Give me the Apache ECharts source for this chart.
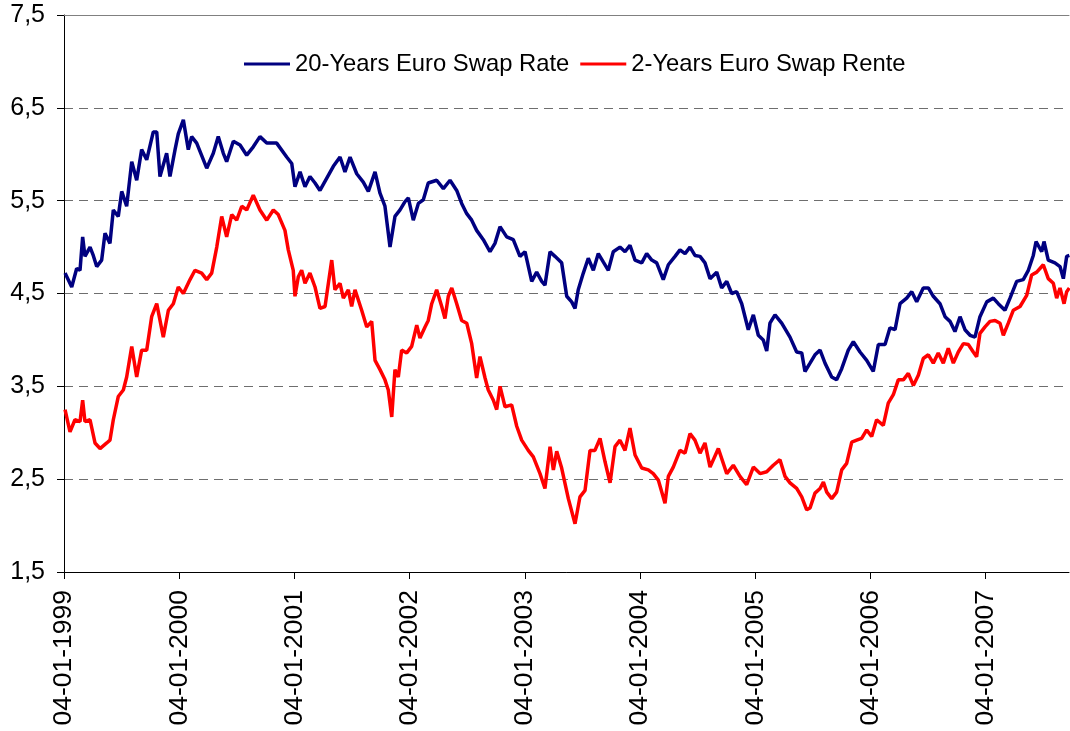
<!DOCTYPE html>
<html>
<head>
<meta charset="utf-8">
<title>Euro Swap Rates</title>
<script src="https://cdn.jsdelivr.net/npm/echarts@6/dist/echarts.min.js"></script>
<style>
  html, body { margin: 0; padding: 0; background: #fff; }
  #chart { width: 1070px; height: 731px; }
</style>
</head>
<body>
<div id="chart"></div>
<script>
// time in decimal years, 1999.0 = 04-01-1999
const years20 = [
  1999.009, 1999.067, 1999.110, 1999.139, 1999.162, 1999.182, 1999.226, 1999.254, 1999.284, 1999.327,
  1999.356, 1999.399, 1999.428, 1999.471, 1999.501, 1999.544, 1999.588, 1999.631, 1999.674, 1999.718,
  1999.775, 1999.805, 1999.833, 1999.891, 1999.920, 1999.964, 1999.992, 2000.036, 2000.079, 2000.108,
  2000.152, 2000.239, 2000.296, 2000.339, 2000.383, 2000.412, 2000.470, 2000.528, 2000.586, 2000.643,
  2000.701, 2000.760, 2000.846, 2000.933, 2000.977, 2001.005, 2001.049, 2001.092, 2001.135, 2001.179,
  2001.222, 2001.280, 2001.338, 2001.396, 2001.439, 2001.483, 2001.541, 2001.598, 2001.642, 2001.700,
  2001.743, 2001.786, 2001.830, 2001.873, 2001.917, 2001.960, 2001.989, 2002.032, 2002.076, 2002.119,
  2002.162, 2002.235, 2002.293, 2002.351, 2002.409, 2002.452, 2002.496, 2002.539, 2002.582, 2002.640,
  2002.698, 2002.741, 2002.785, 2002.843, 2002.900, 2002.958, 2003.002, 2003.060, 2003.103, 2003.147,
  2003.175, 2003.219, 2003.262, 2003.320, 2003.364, 2003.407, 2003.436, 2003.464, 2003.508, 2003.551,
  2003.595, 2003.638, 2003.681, 2003.725, 2003.768, 2003.826, 2003.870, 2003.913, 2003.957, 2004.015,
  2004.058, 2004.102, 2004.145, 2004.202, 2004.246, 2004.304, 2004.347, 2004.391, 2004.434, 2004.477,
  2004.521, 2004.564, 2004.608, 2004.666, 2004.709, 2004.753, 2004.796, 2004.839, 2004.883, 2004.940,
  2004.984, 2005.027, 2005.070, 2005.100, 2005.128, 2005.172, 2005.230, 2005.302, 2005.360, 2005.404,
  2005.432, 2005.476, 2005.519, 2005.563, 2005.606, 2005.664, 2005.707, 2005.751, 2005.808, 2005.852,
  2005.910, 2005.968, 2006.025, 2006.069, 2006.127, 2006.170, 2006.214, 2006.257, 2006.315, 2006.359,
  2006.402, 2006.459, 2006.503, 2006.546, 2006.604, 2006.648, 2006.691, 2006.734, 2006.778, 2006.821,
  2006.865, 2006.908, 2006.951, 2007.010, 2007.067, 2007.110, 2007.168, 2007.212, 2007.270, 2007.327,
  2007.371, 2007.414, 2007.438, 2007.487, 2007.507, 2007.544, 2007.602, 2007.646, 2007.675, 2007.704,
  2007.727
]
const rate20 = [
  4.72, 4.57, 4.77, 4.75, 5.11, 4.90, 5.00, 4.91, 4.79, 4.86,
  5.15, 5.04, 5.40, 5.33, 5.60, 5.44, 5.92, 5.72, 6.05, 5.94,
  6.24, 6.24, 5.76, 6.01, 5.76, 6.05, 6.22, 6.37, 6.05, 6.19,
  6.12, 5.85, 6.01, 6.19, 6.01, 5.92, 6.14, 6.10, 5.99, 6.08,
  6.19, 6.12, 6.12, 5.97, 5.90, 5.65, 5.81, 5.65, 5.76, 5.69,
  5.61, 5.74, 5.87, 5.97, 5.81, 5.97, 5.79, 5.70, 5.60, 5.81,
  5.58, 5.44, 5.00, 5.33, 5.40, 5.49, 5.53, 5.29, 5.47, 5.51,
  5.69, 5.72, 5.63, 5.72, 5.61, 5.47, 5.36, 5.29, 5.18, 5.08,
  4.95, 5.04, 5.22, 5.11, 5.08, 4.90, 4.95, 4.63, 4.73, 4.63,
  4.59, 4.95, 4.90, 4.83, 4.47, 4.41, 4.34, 4.54, 4.72, 4.88,
  4.75, 4.93, 4.84, 4.75, 4.95, 5.00, 4.95, 5.02, 4.86, 4.83,
  4.93, 4.86, 4.83, 4.65, 4.81, 4.90, 4.97, 4.93, 5.00, 4.91,
  4.90, 4.83, 4.66, 4.73, 4.56, 4.63, 4.50, 4.52, 4.39, 4.11,
  4.27, 4.05, 4.00, 3.88, 4.18, 4.27, 4.18, 4.03, 3.87, 3.86,
  3.66, 3.75, 3.84, 3.89, 3.75, 3.60, 3.57, 3.69, 3.89, 3.98,
  3.87, 3.78, 3.66, 3.95, 3.95, 4.13, 4.11, 4.39, 4.45, 4.52,
  4.41, 4.56, 4.56, 4.47, 4.39, 4.25, 4.20, 4.09, 4.25, 4.11,
  4.05, 4.03, 4.25, 4.41, 4.45, 4.39, 4.32, 4.45, 4.63, 4.65,
  4.75, 4.91, 5.06, 4.95, 5.06, 4.86, 4.83, 4.79, 4.66, 4.90,
  4.91
]

const years2 = [
  1999.009, 1999.052, 1999.095, 1999.139, 1999.162, 1999.182, 1999.226, 1999.269, 1999.313, 1999.371,
  1999.399, 1999.428, 1999.471, 1999.515, 1999.544, 1999.588, 1999.631, 1999.674, 1999.718, 1999.761,
  1999.805, 1999.862, 1999.906, 1999.949, 1999.992, 2000.036, 2000.094, 2000.137, 2000.195, 2000.239,
  2000.282, 2000.326, 2000.369, 2000.412, 2000.456, 2000.499, 2000.543, 2000.586, 2000.643, 2000.701,
  2000.760, 2000.817, 2000.860, 2000.918, 2000.947, 2000.990, 2001.005, 2001.034, 2001.063, 2001.092,
  2001.135, 2001.179, 2001.222, 2001.266, 2001.324, 2001.352, 2001.396, 2001.425, 2001.468, 2001.497,
  2001.526, 2001.584, 2001.628, 2001.671, 2001.700, 2001.743, 2001.786, 2001.815, 2001.845, 2001.873,
  2001.902, 2001.931, 2001.975, 2002.018, 2002.062, 2002.090, 2002.134, 2002.162, 2002.192, 2002.235,
  2002.279, 2002.307, 2002.336, 2002.366, 2002.409, 2002.452, 2002.496, 2002.539, 2002.582, 2002.611,
  2002.655, 2002.683, 2002.727, 2002.756, 2002.785, 2002.828, 2002.886, 2002.930, 2002.973, 2003.030,
  2003.074, 2003.132, 2003.175, 2003.219, 2003.248, 2003.277, 2003.320, 2003.378, 2003.436, 2003.479,
  2003.523, 2003.566, 2003.609, 2003.653, 2003.696, 2003.740, 2003.783, 2003.826, 2003.870, 2003.913,
  2003.957, 2004.015, 2004.072, 2004.115, 2004.159, 2004.217, 2004.246, 2004.289, 2004.347, 2004.391,
  2004.434, 2004.477, 2004.521, 2004.564, 2004.608, 2004.680, 2004.753, 2004.810, 2004.868, 2004.926,
  2004.984, 2005.042, 2005.100, 2005.157, 2005.215, 2005.259, 2005.302, 2005.360, 2005.404, 2005.447,
  2005.476, 2005.519, 2005.563, 2005.592, 2005.621, 2005.664, 2005.707, 2005.751, 2005.794, 2005.838,
  2005.881, 2005.924, 2005.968, 2006.011, 2006.054, 2006.112, 2006.155, 2006.199, 2006.242, 2006.286,
  2006.329, 2006.373, 2006.416, 2006.459, 2006.503, 2006.546, 2006.589, 2006.633, 2006.676, 2006.720,
  2006.763, 2006.807, 2006.850, 2006.893, 2006.922, 2006.951, 2006.995, 2007.038, 2007.082, 2007.125,
  2007.154, 2007.197, 2007.241, 2007.299, 2007.357, 2007.400, 2007.444, 2007.501, 2007.544, 2007.588,
  2007.617, 2007.646, 2007.681, 2007.704, 2007.727
]
const rate2 = [
  3.25, 3.01, 3.14, 3.12, 3.35, 3.12, 3.14, 2.89, 2.83, 2.89,
  2.92, 3.14, 3.39, 3.46, 3.60, 3.93, 3.60, 3.89, 3.89, 4.25,
  4.39, 4.03, 4.32, 4.39, 4.57, 4.50, 4.65, 4.75, 4.72, 4.65,
  4.72, 5.00, 5.33, 5.11, 5.35, 5.29, 5.44, 5.40, 5.56, 5.40,
  5.29, 5.40, 5.35, 5.18, 4.97, 4.75, 4.47, 4.68, 4.75, 4.61,
  4.72, 4.57, 4.34, 4.36, 4.86, 4.54, 4.61, 4.45, 4.54, 4.36,
  4.54, 4.32, 4.14, 4.20, 3.78, 3.68, 3.57, 3.46, 3.17, 3.68,
  3.60, 3.89, 3.86, 3.93, 4.16, 4.02, 4.14, 4.21, 4.39, 4.54,
  4.36, 4.23, 4.47, 4.56, 4.39, 4.21, 4.18, 3.96, 3.59, 3.82,
  3.59, 3.46, 3.35, 3.25, 3.50, 3.28, 3.30, 3.07, 2.92, 2.81,
  2.74, 2.56, 2.40, 2.85, 2.60, 2.80, 2.62, 2.29, 2.02, 2.31,
  2.38, 2.81, 2.81, 2.94, 2.69, 2.46, 2.85, 2.92, 2.81, 3.05,
  2.76, 2.62, 2.60, 2.56, 2.49, 2.24, 2.53, 2.63, 2.81, 2.78,
  2.99, 2.92, 2.78, 2.89, 2.63, 2.83, 2.56, 2.65, 2.53, 2.44,
  2.63, 2.56, 2.58, 2.65, 2.71, 2.53, 2.46, 2.40, 2.31, 2.17,
  2.19, 2.35, 2.40, 2.47, 2.36, 2.29, 2.36, 2.60, 2.67, 2.90,
  2.92, 2.94, 3.03, 2.96, 3.14, 3.08, 3.32, 3.41, 3.57, 3.57,
  3.64, 3.51, 3.62, 3.80, 3.84, 3.75, 3.86, 3.75, 3.91, 3.75,
  3.87, 3.96, 3.95, 3.87, 3.82, 4.07, 4.14, 4.20, 4.21, 4.18,
  4.05, 4.18, 4.32, 4.36, 4.48, 4.70, 4.73, 4.81, 4.66, 4.61,
  4.45, 4.56, 4.39, 4.52, 4.56
]

const seriesNames = ['20-Years Euro Swap Rate', '2-Years Euro Swap Rente']
const yTicks = { min: 1.5, max: 7.5, step: 1 }
const xStart = 1999
const xEnd = 2007.724

const chart = echarts.init(document.getElementById('chart'))

const fontFamily = 'Liberation Sans, Arial, sans-serif'
const pairs = (xs, ys) => xs.map((x, i) => [x, ys[i]])

const option = {
  animation: false,
  backgroundColor: '#fff',
  legend: {
    left: 244,
    top: 52,
    padding: 0,
    icon: 'rect',
    itemWidth: 46,
    itemHeight: 3,
    itemGap: 11,
    textStyle: { fontFamily: fontFamily, fontSize: 23.8, color: '#000' },
    data: seriesNames
  },
  grid: { left: 64, right: 1, top: 15, bottom: 159 },
  xAxis: [
    {
      type: 'value',
      min: xStart,
      max: xEnd,
      interval: 1,
      axisLine: { show: true, lineStyle: { color: '#000', width: 1 } },
      axisTick: { show: true, length: 7, lineStyle: { color: '#000' } },
      splitLine: { show: false },
      axisLabel: {
        rotate: 90,
        margin: 18,
        fontFamily: fontFamily,
        fontSize: 26.5,
        color: '#000',
        showMaxLabel: false,
        formatter: function (v) { return '04-01-' + Math.round(v) }
      }
    },
    {
      // top border of the plot
      type: 'value',
      position: 'top',
      min: xStart,
      max: xEnd,
      axisLine: { show: true, lineStyle: { color: '#808080', width: 1 } },
      axisTick: { show: false },
      axisLabel: { show: false },
      splitLine: { show: false }
    }
  ],
  yAxis: {
    type: 'value',
    min: yTicks.min,
    max: yTicks.max,
    interval: yTicks.step,
    axisLine: { show: true, lineStyle: { color: '#000', width: 1 } },
    axisTick: { show: true, length: 7, lineStyle: { color: '#000' } },
    axisLabel: {
      margin: 19,
      fontFamily: fontFamily,
      fontSize: 25,
      color: '#000',
      formatter: function (v) { return v.toFixed(1).replace('.', ',') }
    },
    splitLine: {
      show: true,
      lineStyle: { color: '#6e6e6e', width: 1, type: [9, 6] }
    }
  },
  series: [
    {
      name: seriesNames[0],
      type: 'line',
      xAxisIndex: 0,
      showSymbol: false,
      symbol: 'none',
      color: '#000080',
      lineStyle: { width: 3.5, color: '#000080' },
      data: pairs(years20, rate20)
    },
    {
      name: seriesNames[1],
      type: 'line',
      xAxisIndex: 0,
      showSymbol: false,
      symbol: 'none',
      color: '#ff0000',
      lineStyle: { width: 3.5, color: '#ff0000' },
      data: pairs(years2, rate2)
    }
  ]
}

chart.setOption(option)
</script>
</body>
</html>
